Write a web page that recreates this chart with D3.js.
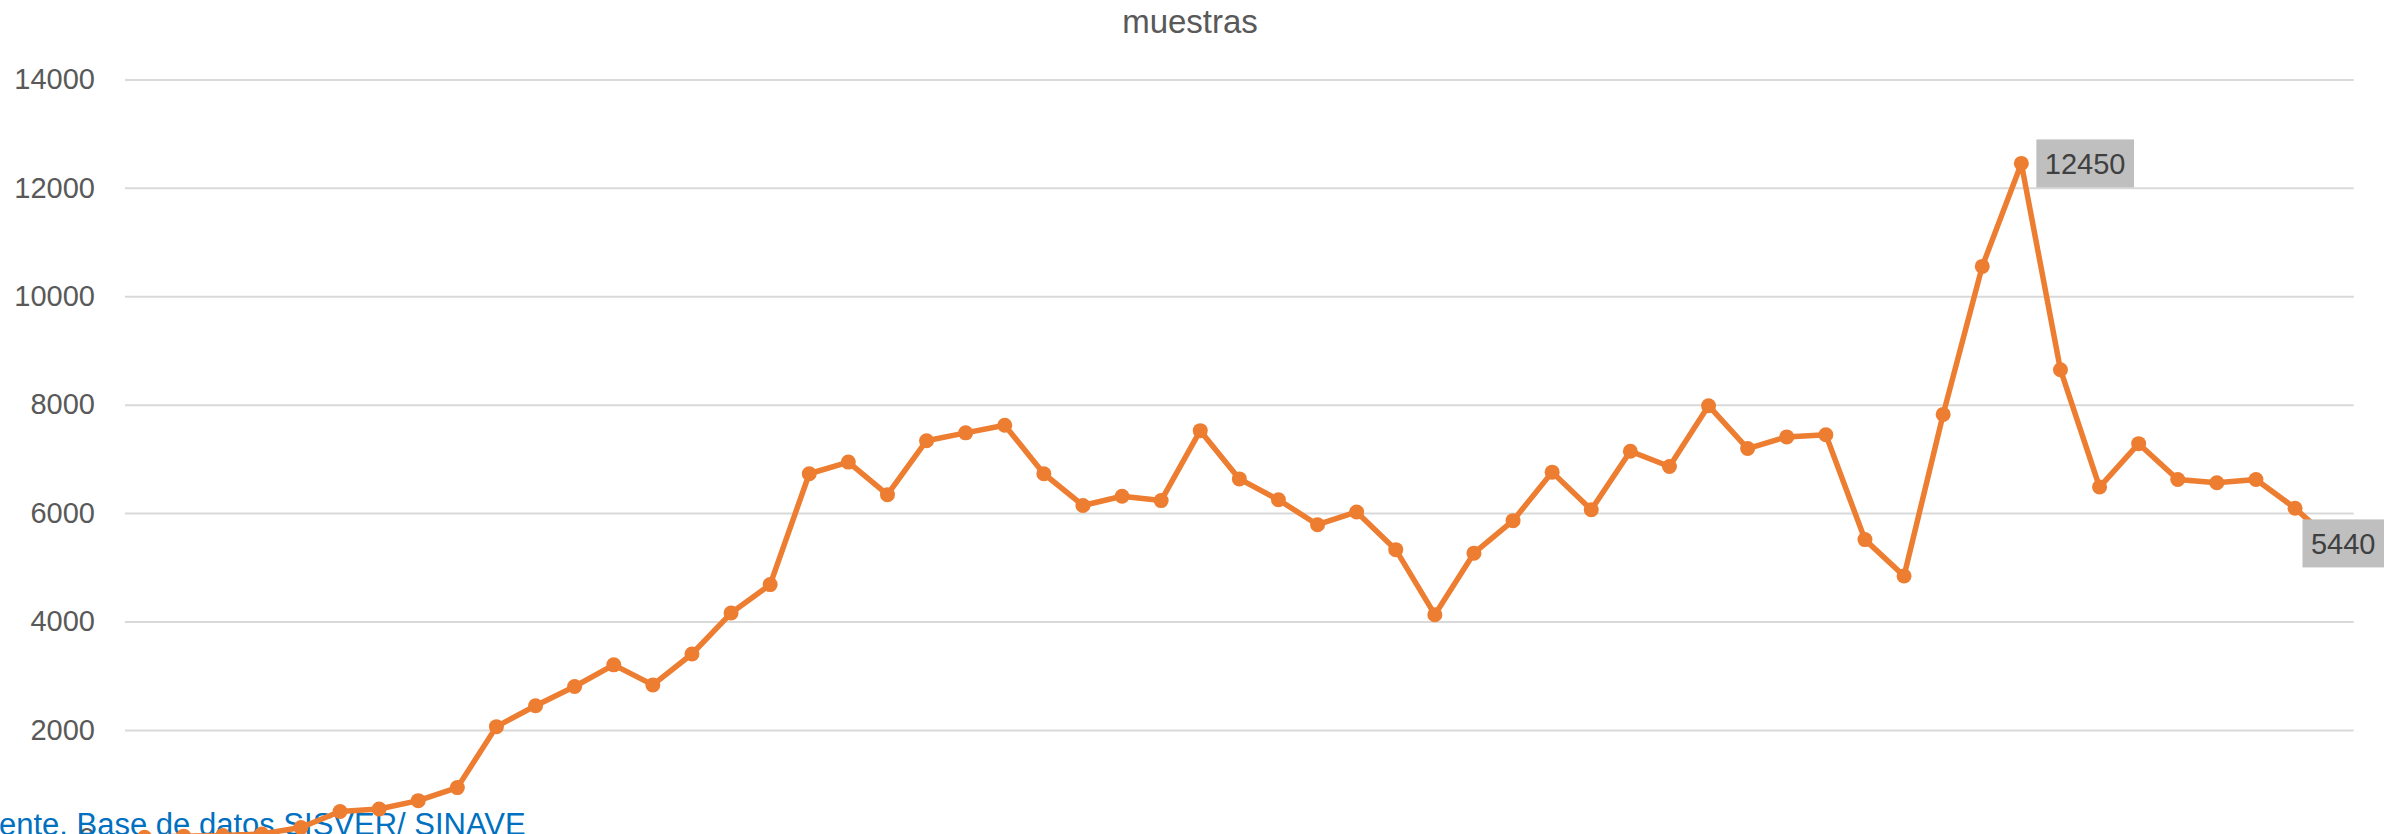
<!DOCTYPE html>
<html>
<head>
<meta charset="utf-8">
<script src="https://cdn.jsdelivr.net/npm/d3@7/dist/d3.min.js"></script>
<style>
  html, body { margin: 0; padding: 0; background: #ffffff; overflow: hidden; }
  svg { display: block; }
</style>
</head>
<body>
<svg id="chart" width="2394" height="834"></svg>
<script>
// ---- data ----
const title = "muestras";
const sourceNote = "ente. Base de datos SISVER/ SINAVE";
const yTicks = [0, 2000, 4000, 6000, 8000, 10000, 12000, 14000];
const weeks = d3.range(1, 58);
const muestras = [
  20, 40, 50, 80, 200, 495, 540, 695, 935, 2060,
  2445, 2800, 3200, 2830, 3400, 4155, 4680, 6725, 6940, 6340,
  7335, 7480, 7620, 6725, 6140, 6310, 6230, 7520, 6630, 6245,
  5785, 6020, 5325, 4125, 5260, 5860, 6755, 6060, 7140, 6860,
  7980, 7190, 7405, 7445, 5510, 4840, 7820, 10550, 12450, 8645,
  6480, 7280, 6620, 6560, 6620, 6090, 5440
];
const labelledIdx = [48, 56];

// ---- layout ----
const W = 2394, H = 834;
const plot = { left: 125, right: 2353.7, top: 79.4, bottom: 838.3 };
const orange = "#ED7D31";
const svg = d3.select("#chart");

svg.append("rect").attr("width", W).attr("height", H).attr("fill", "#ffffff");

const x = d3.scaleBand().domain(weeks).range([plot.left, plot.right]).padding(0);
const y = d3.scaleLinear().domain([0, 14000]).range([plot.bottom, plot.top]);

// gridlines
const grid = svg.append("g").attr("transform", `translate(${plot.left},0)`)
  .call(d3.axisLeft(y).tickValues(yTicks.filter(d => d > 0)).tickSize(-(plot.right - plot.left)).tickFormat(""));
grid.select(".domain").remove();
grid.selectAll("line").attr("stroke", "#d9d9d9").attr("stroke-width", 2);

// y axis labels
const yAxis = svg.append("g").attr("transform", `translate(${plot.left},0)`)
  .call(d3.axisLeft(y).tickValues(yTicks).tickSize(0).tickPadding(30).tickFormat(d3.format("d")));
yAxis.select(".domain").remove();
yAxis.selectAll("text")
  .attr("fill", "#595959")
  .style("font-family", "'Liberation Sans', Arial, sans-serif")
  .style("font-size", "29px");

// title
svg.append("text")
  .attr("x", 1190).attr("y", 33)
  .attr("text-anchor", "middle")
  .attr("fill", "#595959")
  .style("font-family", "'Liberation Sans', Arial, sans-serif")
  .style("font-size", "33px")
  .text(title);

// source note (underneath the series)
svg.append("text")
  .attr("x", -1).attr("y", 835)
  .attr("fill", "#0070C0")
  .style("font-family", "'Liberation Sans', Arial, sans-serif")
  .style("font-size", "31px")
  .text(sourceNote);

// series line
const cx = (d, i) => x(weeks[i]) + x.bandwidth() / 2;
const line = d3.line().x((d, i) => cx(d, i)).y(d => y(d));
svg.append("path")
  .datum(muestras)
  .attr("d", line)
  .attr("fill", "none")
  .attr("stroke", orange)
  .attr("stroke-width", 5.5)
  .attr("stroke-linejoin", "round")
  .attr("stroke-linecap", "round");

svg.append("g").selectAll("circle")
  .data(muestras)
  .join("circle")
  .attr("cx", (d, i) => cx(d, i))
  .attr("cy", d => y(d))
  .attr("r", 7.5)
  .attr("fill", orange);

// data labels
const labelRightLimit = 2384;
labelledIdx.forEach(i => {
  const v = muestras[i];
  const px = cx(v, i), py = y(v);
  const g = svg.append("g");
  const rect = g.append("rect").attr("fill", "#bfbfbf");
  const t = g.append("text")
    .attr("fill", "#404040")
    .attr("dominant-baseline", "central")
    .style("font-family", "'Liberation Sans', Arial, sans-serif")
    .style("font-size", "29px")
    .text(v);
  const tw = t.node().getComputedTextLength();
  const bw = tw + 17, bh = 48;
  const bx = Math.min(px + 15, labelRightLimit - bw);
  rect.attr("x", bx).attr("y", py - bh / 2).attr("width", bw).attr("height", bh);
  t.attr("x", bx + 8.5).attr("y", py + 1);
});
</script>
</body>
</html>
